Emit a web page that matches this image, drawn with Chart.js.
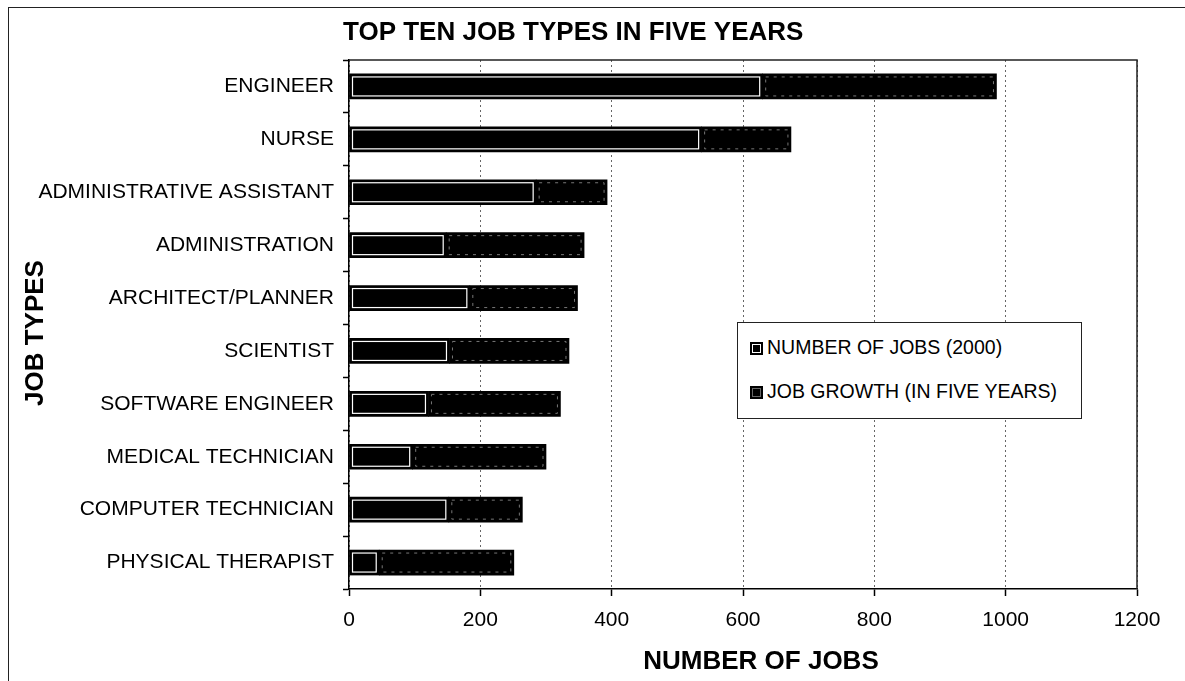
<!DOCTYPE html>
<html>
<head>
<meta charset="utf-8">
<script src="https://cdn.jsdelivr.net/npm/chart.js@4.4.1/dist/chart.umd.min.js"></script>
<style>
  html, body { margin: 0; padding: 0; background: #fff; }
  #wrap { position: relative; width: 1185px; height: 681px; overflow: hidden; }
  #frame { position: absolute; left: 8px; top: 7px; width: 1200px; height: 700px;
           border-left: 1.5px solid #222; border-top: 1.5px solid #222; pointer-events: none; }
  canvas { position: absolute; left: 0; top: 0; }
  #legend { position: absolute; left: 737px; top: 322px; width: 345px; height: 97px;
            border: 1px solid #222; background: #fff; box-sizing: border-box;
            font-family: "Liberation Sans", Arial, sans-serif; font-size: 19.5px; color: #000; }
  .item { position: absolute; left: 12px; height: 22px; line-height: 22px; white-space: nowrap; }
  .mk { display: inline-block; width: 9px; height: 9px; vertical-align: -1px; margin-right: 4px; background: #000; }
  .mk1 { border: 2px solid #000; box-shadow: inset 0 0 0 1px #fff; }
  .mk2 { border: 2px solid #000; box-shadow: inset 0 0 0 1px #666; }
</style>
</head>
<body>
<div id="wrap">
  <canvas id="c" width="1185" height="681"></canvas>
  <div id="frame"></div>
  <div id="legend">
    <div class="item" style="top:13px"><span class="mk mk1"></span>NUMBER OF JOBS (2000)</div>
    <div class="item" style="top:57px"><span class="mk mk2"></span>JOB GROWTH (IN FIVE YEARS)</div>
  </div>
</div>
<script>
const categories = ['ENGINEER', 'NURSE', 'ADMINISTRATIVE ASSISTANT', 'ADMINISTRATION', 'ARCHITECT/PLANNER',
                    'SCIENTIST', 'SOFTWARE ENGINEER', 'MEDICAL TECHNICIAN', 'COMPUTER TECHNICIAN', 'PHYSICAL THERAPIST'];
const jobs2000 = [630, 537, 285, 148, 184, 153, 121, 97, 152, 46];
const growth5yr = [356, 136, 108, 210, 164, 182, 201, 203, 112, 205];
const seriesNames = ['NUMBER OF JOBS (2000)', 'JOB GROWTH (IN FIVE YEARS)'];
const xMin = 0, xMax = 1200, xStep = 200;
const chartTitle = 'TOP TEN JOB TYPES IN FIVE YEARS';
const xTitle = 'NUMBER OF JOBS';
const yTitle = 'JOB TYPES';

const FONT = '"Liberation Sans", Arial, sans-serif';

const decorPlugin = {
  id: 'decor',
  beforeDatasetsDraw(chart) {
    const a = chart.chartArea, ctx = chart.ctx;
    ctx.save();
    ctx.strokeStyle = '#222';
    ctx.lineWidth = 1.5;
    ctx.beginPath();
    ctx.moveTo(a.left, a.top);
    ctx.lineTo(a.right, a.top);
    ctx.lineTo(a.right, a.bottom);
    ctx.stroke();
    ctx.restore();
  },
  afterDatasetsDraw(chart) {
    const ctx = chart.ctx;
    ctx.save();
    chart.getDatasetMeta(0).data.forEach(el => {
      const l = Math.min(el.base, el.x), r = Math.max(el.base, el.x);
      const t = el.y - el.height / 2, b = el.y + el.height / 2;
      ctx.strokeStyle = '#fff';
      ctx.lineWidth = 1.2;
      ctx.strokeRect(l + 3, t + 3, r - l - 6, b - t - 6);
    });
    chart.getDatasetMeta(1).data.forEach(el => {
      const l = Math.min(el.base, el.x), r = Math.max(el.base, el.x);
      const t = el.y - el.height / 2, b = el.y + el.height / 2;
      ctx.strokeStyle = '#777';
      ctx.lineWidth = 1;
      ctx.setLineDash([3, 5]);
      ctx.strokeRect(l + 3, t + 3, r - l - 6, b - t - 6);
      ctx.setLineDash([]);
    });
    ctx.restore();
  },
  afterDraw(chart) {
    const ctx = chart.ctx, a = chart.chartArea;
    ctx.save();
    ctx.fillStyle = '#000';
    ctx.font = 'bold 26px ' + FONT;
    ctx.textBaseline = 'middle';
    ctx.textAlign = 'left';
    ctx.fillText(chartTitle, a.left - 6, 33);
    ctx.textAlign = 'center';
    ctx.fillText(xTitle, a.left + (a.right - a.left) / 2 + 18, 662);
    ctx.translate(36, 333);
    ctx.rotate(-Math.PI / 2);
    ctx.fillText(yTitle, 0, 0);
    ctx.restore();
  }
};

new Chart(document.getElementById('c'), {
  type: 'bar',
  data: {
    labels: categories,
    datasets: [
      { label: seriesNames[0], data: jobs2000, backgroundColor: '#000', borderWidth: 0, barThickness: 25 },
      { label: seriesNames[1], data: growth5yr, backgroundColor: '#000', borderWidth: 0, barThickness: 25 }
    ]
  },
  options: {
    indexAxis: 'y',
    responsive: false,
    animation: false,
    devicePixelRatio: 1,
    layout: { padding: { top: 60, right: 48, left: 0, bottom: 0 } },
    plugins: { legend: { display: false }, title: { display: false }, tooltip: { enabled: false } },
    scales: {
      x: {
        stacked: true,
        min: xMin, max: xMax,
        ticks: { stepSize: xStep, color: '#000', font: { family: FONT, size: 21 }, padding: 12,
                 callback: v => String(v) },
        grid: { color: '#666', lineWidth: 1, tickLength: 7, tickColor: '#000', tickWidth: 1.5 },
        border: { color: '#000', width: 1.5, dash: [2, 3] },
        afterFit(s) { s.height = 92; }
      },
      y: {
        stacked: true,
        ticks: { color: '#000', font: { family: FONT, size: 21 }, padding: 9 },
        grid: { drawOnChartArea: false, tickLength: 6, tickColor: '#000', tickWidth: 1.5, offset: true },
        border: { color: '#000', width: 1.5 },
        afterFit(s) { s.width = 349; }
      }
    }
  },
  plugins: [decorPlugin]
});
</script>
</body>
</html>
